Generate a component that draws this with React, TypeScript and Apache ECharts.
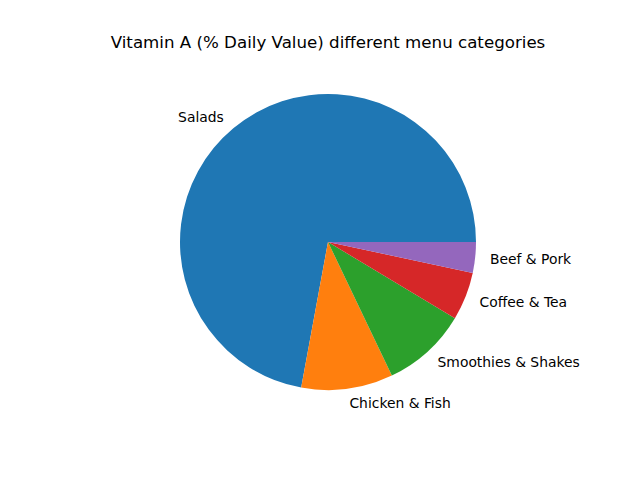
import React, { useEffect, useRef } from "react";
import * as echarts from "echarts";

const categories = ["Salads", "Chicken & Fish", "Smoothies & Shakes", "Coffee & Tea", "Beef & Pork"];
const values = [72.1, 10.0, 9.3, 5.25, 3.35];
const colors = ["#1f77b4", "#ff7f0e", "#2ca02c", "#d62728", "#9467bd"];
const titleText = "Vitamin A (% Daily Value) different menu categories";

export default function App() {
  const ref = useRef<HTMLDivElement>(null);
  useEffect(() => {
    if (!ref.current) return;
    const chart = echarts.init(ref.current, undefined, { renderer: "svg" });
    const R = 148;
    chart.setOption({
      animation: false,
      backgroundColor: "#ffffff",
      title: {
        text: titleText,
        left: 323,
        textAlign: "center",
        top: 29,
        textStyle: {
          fontFamily: "DejaVu Sans",
          fontSize: 16.67,
          fontWeight: "normal",
          color: "#000000",
        },
      },
      series: [
        {
          type: "pie",
          center: [328, 242],
          radius: [0, R],
          startAngle: 0,
          clockwise: false,
          avoidLabelOverlap: false,
          silent: true,
          data: categories.map((c, i) => ({
            name: c,
            value: values[i],
            itemStyle: { color: colors[i] },
          })),
          label: {
            show: true,
            position: "outside",
            formatter: "{b}",
            fontFamily: "DejaVu Sans",
            fontSize: 13.89,
            color: "#000000",
            distanceToLabelLine: 0,
          },
          labelLine: { show: false, length: R * 0.1, length2: 0 },
          itemStyle: { borderWidth: 0 },
          emphasis: { disabled: true },
        },
      ],
    });
    return () => chart.dispose();
  }, []);
  return (
    <div
      ref={ref}
      style={{ position: "fixed", left: 0, top: 0, width: 640, height: 480 }}
    />
  );
}
